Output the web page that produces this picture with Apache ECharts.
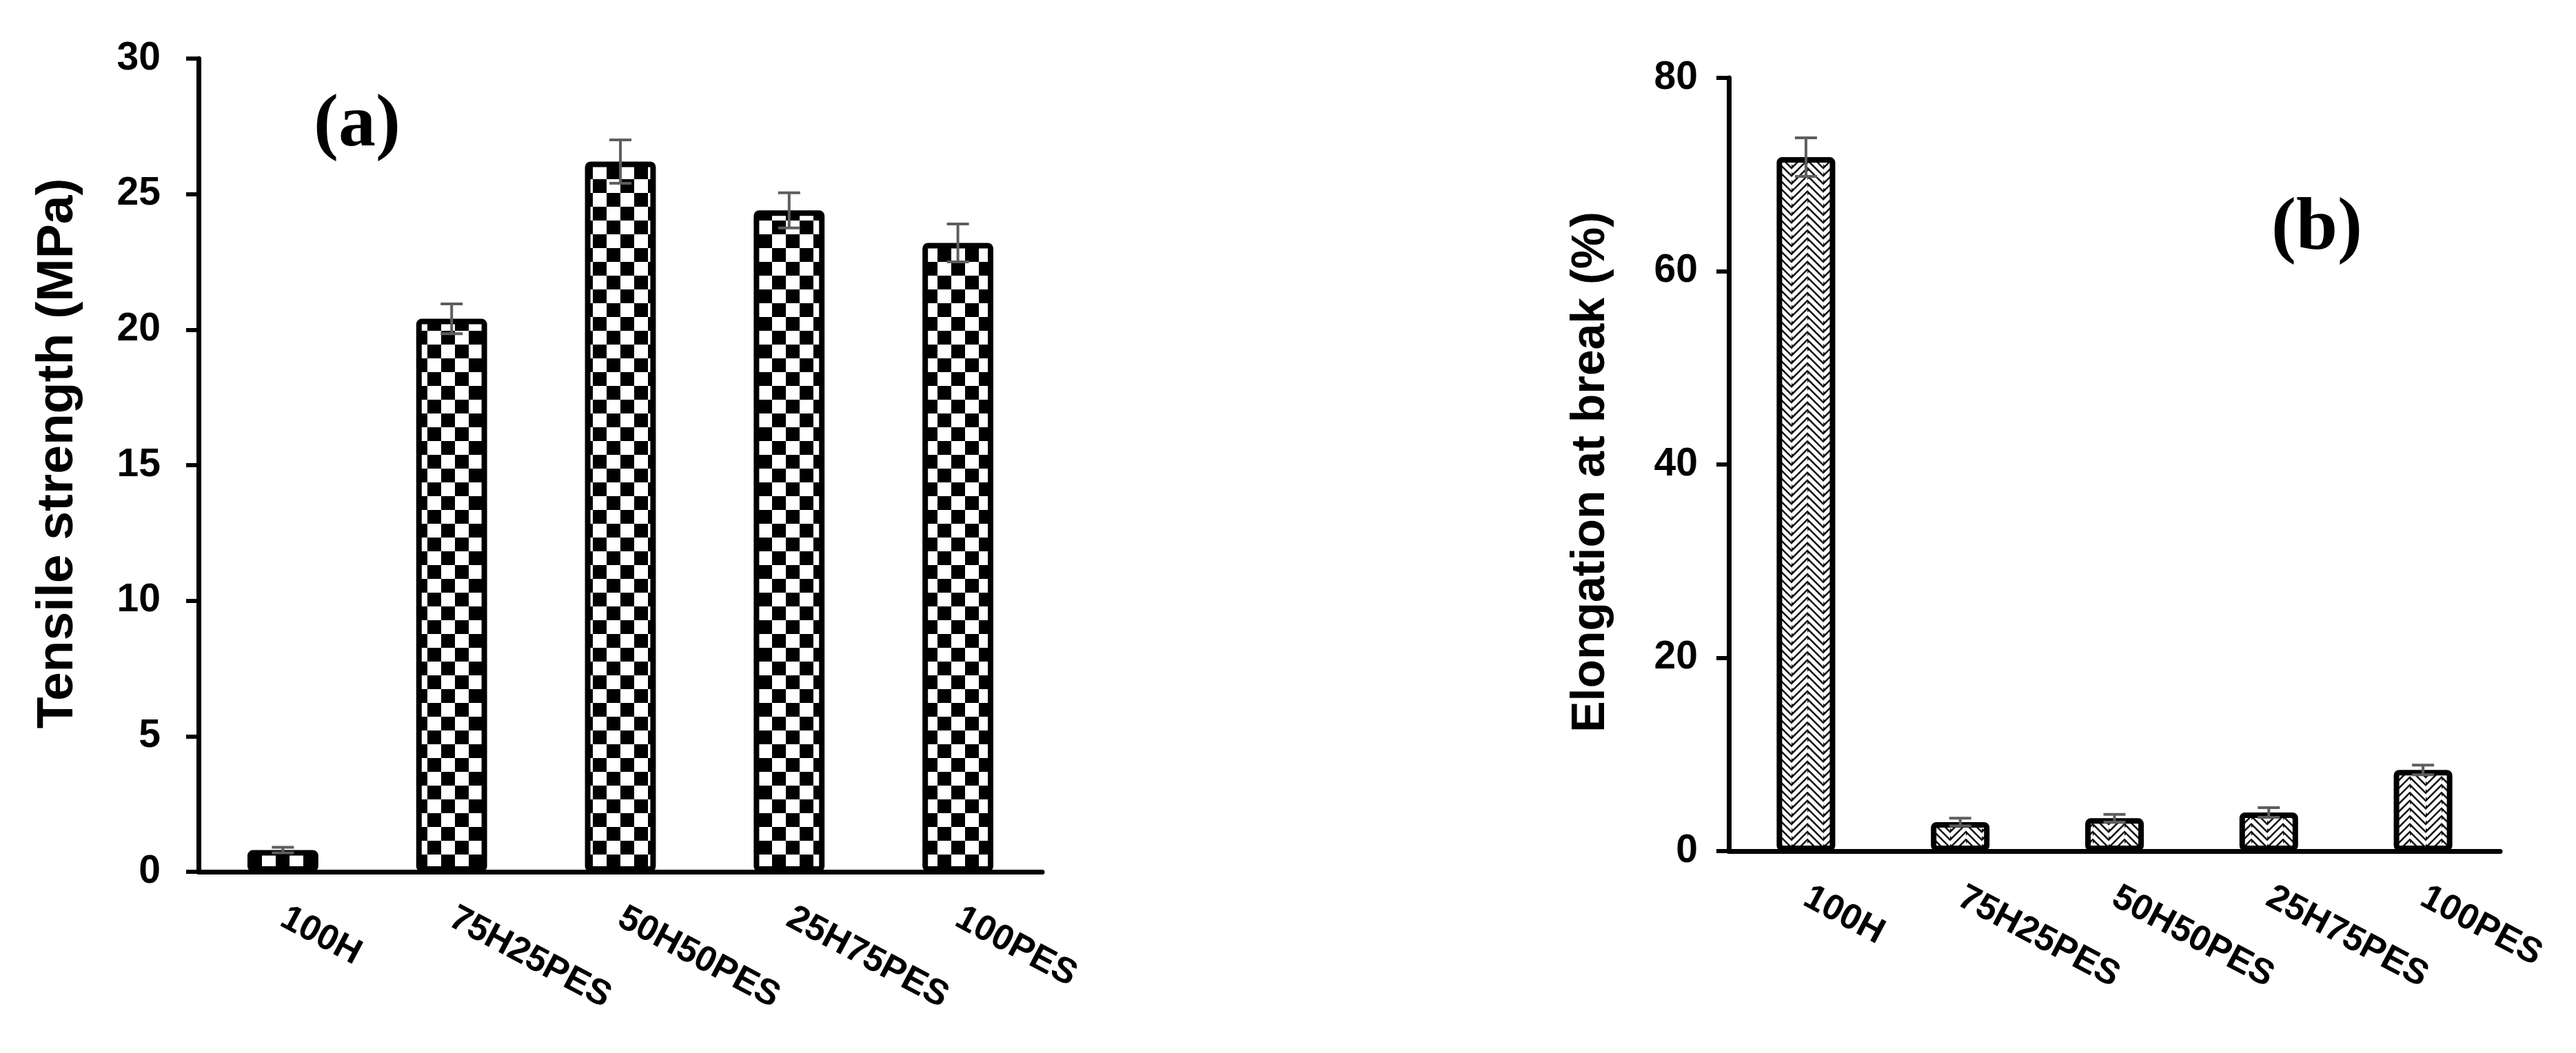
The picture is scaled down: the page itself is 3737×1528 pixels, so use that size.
<!DOCTYPE html>
<html>
<head>
<meta charset="utf-8">
<script src="https://cdn.jsdelivr.net/npm/echarts@6/dist/echarts.min.js"></script>
<style>
html,body{margin:0;padding:0;background:#fff;}
#chart{width:3737px;height:1528px;}
</style>
</head>
<body>
<div id="chart"></div>
<script>
// ---- data ----
var categories = ['100H', '75H25PES', '50H50PES', '25H75PES', '100PES'];
var tensile = [0.8, 20.4, 26.2, 24.4, 23.2];
var tensileErr = [0.1, 0.55, 0.8, 0.65, 0.7];
var elongation = [71.8, 3.0, 3.4, 4.0, 8.4];
var elongationErr = [2.0, 0.4, 0.4, 0.5, 0.5];
var tensileTicks = [0, 5, 10, 15, 20, 25, 30];
var elongationTicks = [0, 20, 40, 60, 80];

// ---- patterns ----
function checkerPattern() {
  var c = document.createElement('canvas');
  c.width = 40; c.height = 40;
  var g = c.getContext('2d');
  g.fillStyle = '#fff'; g.fillRect(0, 0, 40, 40);
  g.fillStyle = '#000';
  g.fillRect(0, 0, 20, 20);
  g.fillRect(20, 20, 20, 20);
  return c;
}
function herringbonePattern() {
  var c = document.createElement('canvas');
  var w = 46, h = 34;
  c.width = w; c.height = h;
  var g = c.getContext('2d');
  g.fillStyle = '#111'; g.fillRect(0, 0, w, h);
  g.strokeStyle = '#fff';
  g.lineWidth = 5.5;
  g.lineCap = 'butt';
  g.save();
  g.beginPath(); g.rect(0, 0, w / 2, h); g.clip();
  for (var k = -6; k < 8; k++) {
    g.beginPath();
    g.moveTo(0, k * 11.33);
    g.lineTo(46, k * 11.33 + 46);
    g.stroke();
  }
  g.restore();
  g.save();
  g.beginPath(); g.rect(w / 2, 0, w / 2, h); g.clip();
  for (var k2 = -6; k2 < 10; k2++) {
    g.beginPath();
    g.moveTo(w / 2, k2 * 11.33 + 23);
    g.lineTo(w / 2 + 46, k2 * 11.33 - 23);
    g.stroke();
  }
  g.restore();
  return c;
}

function errData(vals, errs) {
  return vals.map(function (v, i) { return [i, v - errs[i], v + errs[i]]; });
}
function renderErr(params, api) {
  var x = api.value(0);
  var lo = api.coord([x, api.value(1)]);
  var hi = api.coord([x, api.value(2)]);
  var cap = 16;
  var st = { stroke: '#5e5e5e', lineWidth: 4 };
  return {
    type: 'group',
    children: [
      { type: 'line', shape: { x1: hi[0], y1: hi[1], x2: lo[0], y2: lo[1] }, style: st },
      { type: 'line', shape: { x1: hi[0] - cap, y1: hi[1], x2: hi[0] + cap, y2: hi[1] }, style: st },
      { type: 'line', shape: { x1: lo[0] - cap, y1: lo[1], x2: lo[0] + cap, y2: lo[1] }, style: st }
    ]
  };
}

var labelFont = 'Liberation Sans, Arial, sans-serif';

function xAxisCfg(gi) {
  return {
    type: 'category', gridIndex: gi, data: categories,
    axisLine: { lineStyle: { color: '#000', width: 7 } },
    axisTick: { show: false },
    axisLabel: {
      rotate: -28, margin: 64, color: '#000', fontSize: 52, fontWeight: 'bold',
      fontFamily: labelFont, interval: 0
    }
  };
}
function yAxisCfg(gi, max, interval, name, nameSize, nameGap, labelMargin, namePad) {
  return {
    type: 'value', gridIndex: gi, min: 0, max: max, interval: interval,
    name: name, nameLocation: 'middle', nameGap: nameGap,
    nameTextStyle: { color: '#000', fontSize: nameSize, fontWeight: 'bold', fontFamily: labelFont, padding: namePad },
    axisLine: { show: true, lineStyle: { color: '#000', width: 7 } },
    axisTick: { show: true, inside: false, length: 18, lineStyle: { color: '#000', width: 6 } },
    axisLabel: { color: '#000', fontSize: 57, fontWeight: 'bold', fontFamily: labelFont, margin: labelMargin },
    splitLine: { show: false }
  };
}

var chart = echarts.init(document.getElementById('chart'));
chart.setOption({
  backgroundColor: '#fff',
  animation: false,
  title: [
    { text: '(a)', left: 450, top: 124, textStyle: { fontFamily: 'Liberation Serif, Times New Roman, serif', fontWeight: 'bold', fontSize: 108, color: '#000' } },
    { text: '(b)', left: 3290, top: 274, textStyle: { fontFamily: 'Liberation Serif, Times New Roman, serif', fontWeight: 'bold', fontSize: 108, color: '#000' } }
  ],
  grid: [
    { left: 288, right: 2225, top: 85, bottom: 263 },
    { left: 2508, right: 110, top: 113, bottom: 293 }
  ],
  xAxis: [xAxisCfg(0), xAxisCfg(1)],
  yAxis: [
    yAxisCfg(0, tensileTicks[tensileTicks.length - 1], tensileTicks[1] - tensileTicks[0], 'Tensile strength (MPa)', 75, 166, 55, [0, 0, 0, 34]),
    yAxisCfg(1, elongationTicks[elongationTicks.length - 1], elongationTicks[1] - elongationTicks[0], 'Elongation at break (%)', 68, 166, 45, [0, 22, 0, 0])
  ],
  series: [
    {
      type: 'bar', xAxisIndex: 0, yAxisIndex: 0, data: tensile, barWidth: '42%',
      itemStyle: { color: { image: checkerPattern(), repeat: 'repeat' }, borderColor: '#000', borderWidth: 8, borderRadius: 4 }
    },
    {
      type: 'custom', xAxisIndex: 0, yAxisIndex: 0, data: errData(tensile, tensileErr),
      renderItem: renderErr, z: 10
    },
    {
      type: 'bar', xAxisIndex: 1, yAxisIndex: 1, data: elongation, barWidth: '38%',
      itemStyle: { color: { image: herringbonePattern(), repeat: 'repeat' }, borderColor: '#000', borderWidth: 8, borderRadius: 4 }
    },
    {
      type: 'custom', xAxisIndex: 1, yAxisIndex: 1, data: errData(elongation, elongationErr),
      renderItem: renderErr, z: 10
    }
  ]
});
</script>
</body>
</html>
